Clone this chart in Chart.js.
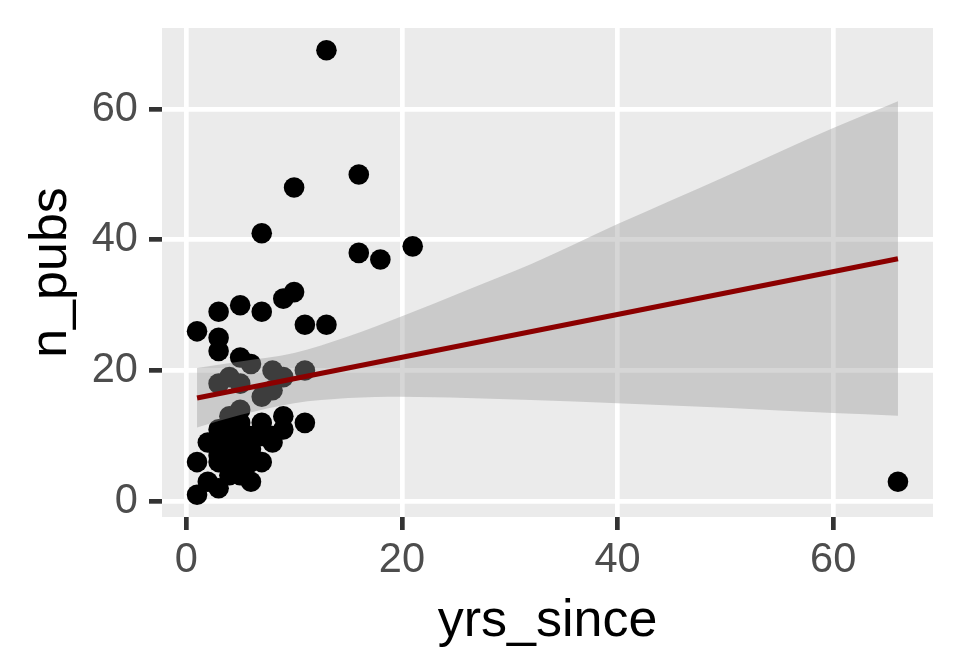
<!DOCTYPE html>
<html>
<head>
<meta charset="utf-8">
<script src="https://cdn.jsdelivr.net/npm/chart.js@4.4.1/dist/chart.umd.min.js"></script>
<style>
  html, body { margin: 0; padding: 0; background: #FFFFFF; }
  #wrap { width: 960px; height: 672px; }
</style>
</head>
<body>
<div id="wrap"><canvas id="chart"></canvas></div>
<script>
// scatter data
var yrsSince = [13, 16, 10, 7, 16, 18, 21,
  10, 9, 5, 3, 7, 11, 13, 1, 3, 3, 5, 6,
  8, 11, 9, 4, 3, 5, 8, 7,
  5, 4, 9, 7, 11, 3, 4,
  2, 8, 1, 7, 2, 3, 6, 1, 66,
  3, 4, 4, 5, 5, 5, 3, 4, 5, 6, 3, 4, 5, 6, 3, 4, 5, 6, 3, 4, 5, 6, 4, 5, 4, 5, 6, 7, 9, 8];
var nPubs = [69, 50, 48, 41, 38, 37, 39,
  32, 31, 30, 29, 29, 27, 27, 26, 25, 23, 22, 21,
  20, 20, 19, 19, 18, 18, 17, 16,
  14, 13, 13, 12, 12, 11, 12,
  9, 9, 6, 6, 3, 2, 3, 1, 3,
  10, 10, 11, 12, 11, 10, 9, 9, 9, 9, 8, 8, 8, 8, 7, 7, 7, 7, 6, 6, 6, 6, 5, 5, 4, 4, 10, 10, 11, 10];

// linear fit and its confidence band
var fitX = [1, 66];
var fitY = [15.8, 37.1];
var bandX = [1, 5, 10, 15, 20, 26, 32, 40, 50, 60, 66];
var bandUpper = [20.4, 21.4, 22.7, 25.2, 28.3, 32.3, 36.3, 42.4, 49.7, 57.1, 61.2];
var bandLower = [11.3, 13.2, 15.0, 15.8, 16.0, 15.8, 15.5, 15.0, 14.3, 13.5, 13.1];

var xTicks = [0, 20, 40, 60];
var yTicks = [0, 20, 40, 60];

function pairs(xs, ys) {
  return xs.map(function (x, i) { return { x: x, y: ys[i] }; });
}

var panelBg = {
  id: 'panelBg',
  beforeDraw: function (chart) {
    var a = chart.chartArea, ctx = chart.ctx;
    ctx.save();
    ctx.fillStyle = '#EBEBEB';
    ctx.fillRect(a.left, a.top, a.right - a.left, a.bottom - a.top);
    ctx.restore();
  }
};

var fontFamily = '"Liberation Sans", Arial, sans-serif';

var ctx = document.getElementById('chart');
new Chart(ctx, {
  type: 'scatter',
  data: {
    datasets: [
      {
        label: 'points',
        data: pairs(yrsSince, nPubs),
        backgroundColor: '#000000',
        borderWidth: 0,
        pointRadius: 10.3,
        pointHoverRadius: 10.3,
        order: 3
      },
      {
        label: 'upper',
        type: 'line',
        data: pairs(bandX, bandUpper),
        borderColor: 'transparent',
        borderWidth: 0,
        backgroundColor: 'rgba(153,153,153,0.4)',
        pointRadius: 0,
        fill: '+1',
        cubicInterpolationMode: 'monotone',
        order: 2
      },
      {
        label: 'lower',
        type: 'line',
        data: pairs(bandX, bandLower),
        borderColor: 'transparent',
        borderWidth: 0,
        pointRadius: 0,
        fill: false,
        cubicInterpolationMode: 'monotone',
        order: 2
      },
      {
        label: 'fit',
        type: 'line',
        data: pairs(fitX, fitY),
        borderColor: '#8B0000',
        borderWidth: 5,
        pointRadius: 0,
        fill: false,
        order: 1
      }
    ]
  },
  options: {
    responsive: true,
    maintainAspectRatio: false,
    animation: false,
    layout: { padding: { top: 28, right: 27, left: 0, bottom: 0 } },
    plugins: {
      legend: { display: false },
      tooltip: { enabled: false }
    },
    scales: {
      x: {
        type: 'linear',
        min: -2.25,
        max: 69.25,
        afterBuildTicks: function (scale) {
          scale.ticks = xTicks.map(function (v) { return { value: v }; });
        },
        afterFit: function (scale) {
          scale.height = 155;
          scale.paddingLeft = 0;
          scale.paddingRight = 0;
        },
        grid: {
          color: '#FFFFFF',
          lineWidth: 4.7,
          tickColor: '#333333',
          tickWidth: 4.7,
          tickLength: 13
        },
        border: { display: false },
        ticks: {
          color: '#4D4D4D',
          padding: 6,
          maxRotation: 0,
          font: { family: fontFamily, size: 41.6 }
        },
        title: {
          display: true,
          text: 'yrs_since',
          color: '#000000',
          padding: { top: 0, bottom: 19 },
          font: { family: fontFamily, size: 52 }
        }
      },
      y: {
        type: 'linear',
        min: -2.4,
        max: 72.4,
        afterBuildTicks: function (scale) {
          scale.ticks = yTicks.map(function (v) { return { value: v }; });
        },
        afterFit: function (scale) {
          scale.width = 162;
          scale.paddingTop = 0;
          scale.paddingBottom = 0;
        },
        grid: {
          color: '#FFFFFF',
          lineWidth: 4.7,
          tickColor: '#333333',
          tickWidth: 4.7,
          tickLength: 13
        },
        border: { display: false },
        ticks: {
          color: '#4D4D4D',
          padding: 11,
          font: { family: fontFamily, size: 41.6 }
        },
        title: {
          display: true,
          text: 'n_pubs',
          color: '#000000',
          padding: { top: 20, bottom: 0 },
          font: { family: fontFamily, size: 52 }
        }
      }
    }
  },
  plugins: [panelBg]
});
</script>
</body>
</html>
